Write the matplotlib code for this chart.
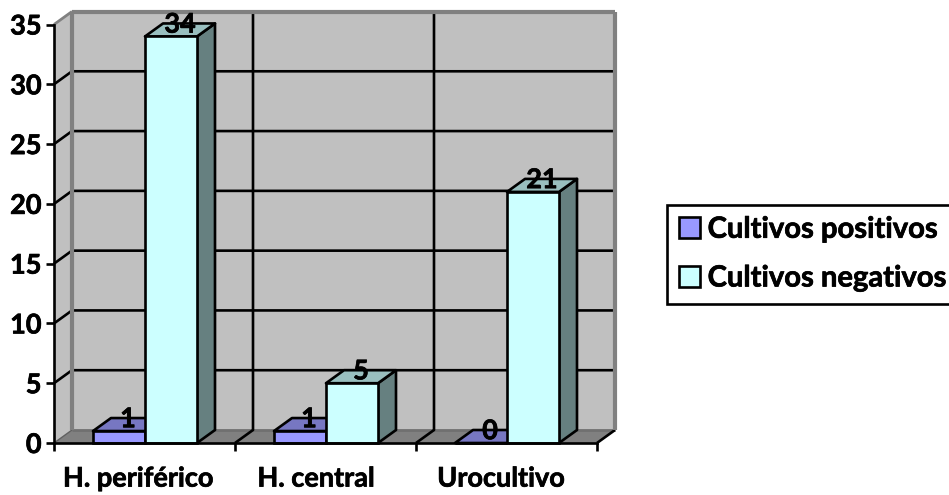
import numpy as np
import matplotlib as mpl
import matplotlib.pyplot as plt
import matplotlib.patheffects as pe
from matplotlib.patches import Polygon

categories = ['H. periférico', 'H. central', 'Urocultivo']
series_names = ['Cultivos positivos', 'Cultivos negativos']
positivos = [1, 1, 0]
negativos = [34, 5, 21]
yticks = [0, 5, 10, 15, 20, 25, 30, 35]

mpl.rcParams['font.family'] = 'Lato'
mpl.rcParams['font.weight'] = 'bold'
mpl.rcParams['font.size'] = 19.5

W, H = 949, 495
fig = plt.figure(figsize=(W / 100, H / 100), dpi=100)
ax = fig.add_axes([54 / W, (H - 443) / H, 543 / W, 418.5 / H])
ax.set_xlim(0, 3)
ax.set_ylim(0, 35)

# depth of the fake 3d box, in data units
dx = 18 / 181
dy = 13 / 11.96
bar_w = 52 / 181
gap = 39 / 181
lw = 1.9


def face(pts, color, z=1, edge='none', lw=lw):
    ax.add_patch(Polygon(pts, closed=True, facecolor=color, edgecolor=edge,
                         linewidth=lw, clip_on=False, zorder=z, joinstyle='round'))


def line(xs, ys, color='black', lw=lw, z=1.5):
    ax.plot(xs, ys, color=color, lw=lw, clip_on=False, zorder=z, solid_capstyle='butt')


# walls and floor
face([(dx, dy), (3 + dx, dy), (3 + dx, 35 + dy), (dx, 35 + dy)], '#C0C0C0')
face([(0, 0), (dx, dy), (dx, 35 + dy), (0, 35)], '#C0C0C0')
face([(0, 0), (3, 0), (3 + dx, dy), (dx, dy)], '#808080')

# gridlines on the walls
for v in yticks[1:-1]:
    line([0, dx, 3 + dx], [v, v + dy, v + dy])
line([0, dx], [35, 35 + dy], color='#808080', lw=2)
for c in [1, 2]:
    line([c, c + dx, c + dx], [0, dy, 35 + dy])
line([3, 3 + dx], [0, dy])
line([0, dx], [0, dy], color='#606060', lw=1)
line([dx, dx], [dy, 35 + dy], color='#808080', lw=3, z=1.6)
line([dx, 3 + dx], [35 + dy, 35 + dy], color='#808080', lw=3, z=1.6)
line([3 + dx, 3 + dx], [dy, 35 + dy], color='#808080', lw=3, z=1.6)
line([dx, 3 + dx], [dy, dy], color='#707070', lw=2, z=1.2)

# bars
x = np.arange(3) + gap
series = [
    (positivos, x, '#9999FF', '#7777C2', '#4D4D80', series_names[0]),
    (negativos, x + bar_w, '#CCFFFF', '#99BFBF', '#668080', series_names[1]),
]
handles = []
for vals, xs, front, top, side, name in series:
    for xi, v in zip(xs, vals):
        if v > 0:
            face([(xi + bar_w, 0), (xi + bar_w + dx, dy), (xi + bar_w + dx, v + dy), (xi + bar_w, v)],
                 side, z=3, edge='black')
        face([(xi, v), (xi + bar_w, v), (xi + bar_w + dx, v + dy), (xi + dx, v + dy)],
             top, z=3, edge='black')
    b = ax.bar(xs, vals, bar_w, align='edge', color=front, edgecolor='black', linewidth=lw,
               zorder=3.2, clip_on=False, label=name)
    handles.append(b)

# value labels
texts = []
for vals, xs in [(positivos, x), (negativos, x + bar_w)]:
    for xi, v in zip(xs, vals):
        texts.append(ax.text(xi + bar_w / 2 + dx / 2, v + dy - 0.1, str(v), ha='center', va='center',
                             color='black', zorder=5, clip_on=False))

# axes
for s in ['top', 'right']:
    ax.spines[s].set_visible(False)
for s in ['left', 'bottom']:
    ax.spines[s].set_linewidth(lw)
    ax.spines[s].set_zorder(4)
ax.patch.set_visible(False)
ax.set_yticks(yticks)
ax.set_xticks([0, 1, 2, 3])
ax.set_xticklabels([])
ax.set_xticks([0.464, 1.448, 2.47], labels=categories, minor=True)
ax.tick_params(axis='y', length=6, width=lw, pad=3)
ax.tick_params(axis='x', which='major', length=6, width=lw)
ax.tick_params(axis='x', which='minor', length=0, pad=17)

# legend, runs off the right edge like the original
leg = fig.legend(handles=handles, loc='upper left', bbox_to_anchor=(666.5 / W, 1 - 204.5 / H),
                 bbox_transform=fig.transFigure, fancybox=False, framealpha=1, edgecolor='black',
                 fontsize=21, handlelength=0.72, handleheight=0.72, handletextpad=0.27,
                 labelspacing=0.78, borderaxespad=0, borderpad=0.42)
leg.get_frame().set_linewidth(lw)

# the original face is heavier than Lato Bold
texts += ax.get_yticklabels() + ax.get_xticklabels(minor=True) + leg.get_texts()
for t in texts:
    t.set_path_effects([pe.withStroke(linewidth=0.5, foreground='black')])

fig.savefig('out.png', dpi=100)
